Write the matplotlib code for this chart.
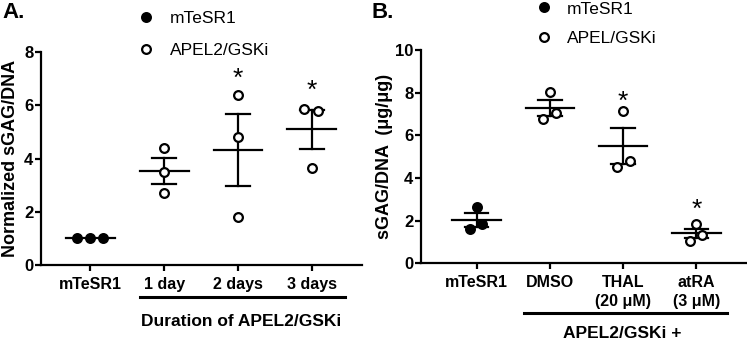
import matplotlib
matplotlib.use("Agg")
import matplotlib.pyplot as plt
import numpy as np
from matplotlib.lines import Line2D

plt.rcParams['font.family'] = ['Liberation Sans', 'DejaVu Sans']

# ---------------- data ----------------
# Panel A
a_categories = ["mTeSR1", "1 day", "2 days", "3 days"]
a_values = [
    [1.0, 1.0, 1.0],
    [4.4, 3.5, 2.7],
    [6.4, 4.8, 1.8],
    [5.85, 5.8, 3.65],
]
a_filled = [True, False, False, False]
a_signif = [False, False, True, True]
a_yticks = [0, 2, 4, 6, 8]

# Panel B
b_categories = ["mTeSR1", "DMSO", "THAL\n(20 \u03bcM)", "atRA\n(3 \u03bcM)"]
b_values = [
    [2.65, 1.61, 1.83],
    [8.02, 6.77, 7.03],
    [7.15, 4.53, 4.81],
    [1.83, 1.06, 1.33],
]
b_filled = [True, False, False, False]
b_signif = [False, False, True, True]
b_yticks = [0, 2, 4, 6, 8, 10]

# horizontal jitter of points within a group (layout only)
a_jitter = [[-0.176, 0.0, 0.176], [0, 0, 0], [0, 0, 0], [-0.1, 0.09, 0.0]]
b_jitter = [[0.0, -0.09, 0.08], [0.0, -0.09, 0.09], [0.0, -0.08, 0.09], [0.0, -0.09, 0.08]]
# asterisk offset above highest point, in pixels (layout only)
a_star_off = [0, 0, 16, 18]
b_star_off = [0, 0, 9, 14]

LW = 1.6


def draw_panel(ax, cats, vals, filled, signif, jitter, star_off, yticks, ylabel,
               xlim, label_x):
    for i, (v, f, j) in enumerate(zip(vals, filled, jitter)):
        v = np.asarray(v, dtype=float)
        m = v.mean()
        sem = v.std(ddof=1) / np.sqrt(len(v))
        ax.plot([i - 0.33, i + 0.33], [m, m], color='black', lw=LW, zorder=2)
        if sem > 0:
            ax.plot([i, i], [m - sem, m + sem], color='black', lw=LW, zorder=2)
            for yy in (m - sem, m + sem):
                ax.plot([i - 0.16, i + 0.16], [yy, yy], color='black', lw=LW, zorder=2)
        ax.plot(i + np.asarray(j), v, linestyle='none', marker='o', ms=6.3, mew=1.6,
                mec='black', mfc='black' if f else 'white', zorder=3, clip_on=False)
    ax.set_xlim(*xlim)
    ax.set_ylim(yticks[0], yticks[-1])
    ax.set_yticks(yticks)
    ax.set_xticks(range(len(cats)))
    ax.set_xticklabels(cats, fontweight='bold', fontsize=11.5, linespacing=1.3)
    for lab in ax.get_yticklabels():
        lab.set_fontweight('bold')
        lab.set_fontsize(12)
    ax.spines['top'].set_visible(False)
    ax.spines['right'].set_visible(False)
    ax.spines['left'].set_linewidth(LW)
    ax.spines['bottom'].set_linewidth(LW)
    ax.tick_params(axis='y', width=LW, length=4.5, pad=1)
    ax.tick_params(axis='x', width=LW, length=4.5, pad=4)
    ax.set_ylabel(ylabel, fontweight='bold', fontsize=13)
    ax.yaxis.label.set_verticalalignment('center')
    ax.yaxis.set_label_coords(label_x, 0.5)
    for i, (v, s, off) in enumerate(zip(vals, signif, star_off)):
        if s:
            t = ax.transData
            px = t.transform((i, max(v)))
            yy = t.inverted().transform((px[0], px[1] + off))[1]
            ax.text(i, yy, "*", ha='center', va='center',
                    fontsize=19, fontweight='normal')


fig = plt.figure(figsize=(7.47, 3.42), dpi=100)

axA = fig.add_axes([0.0549, 0.225, 0.4297, 0.623])
draw_panel(axA, a_categories, a_values, a_filled, a_signif, a_jitter, a_star_off,
           a_yticks, "Normalized sGAG/DNA", (-0.67, 3.68), -0.094)
axB = fig.add_axes([0.5635, 0.230, 0.4365, 0.624])
draw_panel(axB, b_categories, b_values, b_filled, b_signif, b_jitter, b_star_off,
           b_yticks, "sGAG/DNA  (\u03bcg/\u03bcg)", (-0.76, 3.69), -0.112)

# group brackets below tick labels
axA.plot([0.67, 3.45], [-0.149, -0.149], color='black', lw=2.2,
         transform=axA.get_xaxis_transform(), clip_on=False)
axA.text(2.04, -0.266, "Duration of APEL2/GSKi", ha='center', va='center',
         fontweight='bold', fontsize=12.5, transform=axA.get_xaxis_transform())
axB.plot([0.64, 3.42], [-0.232, -0.232], color='black', lw=2.2,
         transform=axB.get_xaxis_transform(), clip_on=False)
axB.text(1.99, -0.33, "APEL2/GSKi +", ha='center', va='center',
         fontweight='bold', fontsize=12.5, transform=axB.get_xaxis_transform())


def legend_for(ax, labels, anchor, spacing):
    handles = [Line2D([], [], linestyle='none', marker='o', ms=6.3, mew=1.6,
                      mec='black', mfc='black'),
               Line2D([], [], linestyle='none', marker='o', ms=6.3, mew=1.6,
                      mec='black', mfc='white')]
    leg = ax.legend(handles, labels, loc='center left', bbox_to_anchor=anchor,
                    bbox_transform=fig.transFigure, frameon=False, fontsize=12.5,
                    handlelength=1.0, handletextpad=0.85, labelspacing=spacing,
                    borderaxespad=0, borderpad=0)
    return leg

legend_for(axA, ["mTeSR1", "APEL2/GSKi"], (0.184, 0.9), 0.95)
legend_for(axB, ["mTeSR1", "APEL/GSKi"], (0.716, 0.93), 0.85)

fig.text(0.003, 0.962, "A.", fontsize=16, fontweight='bold', va='center', ha='left')
fig.text(0.497, 0.962, "B.", fontsize=16, fontweight='bold', va='center', ha='left')

fig.savefig("out.png", dpi=100)
